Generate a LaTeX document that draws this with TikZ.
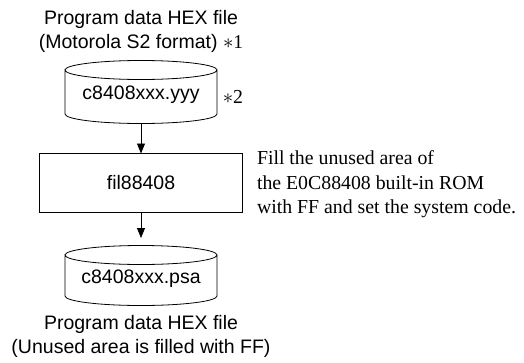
\documentclass[tikz,border=0pt]{standalone}
\usepackage{fontspec}
\setmainfont{Liberation Serif}
\setsansfont{Liberation Sans}
\usetikzlibrary{arrows.meta}
\begin{document}
\begin{tikzpicture}[x=1pt,y=-1pt,
  every node/.style={inner sep=0pt, outer sep=0pt},
  sanstext/.style={font=\sffamily\fontsize{19.5}{25}\selectfont, align=center},
  seriftext/.style={font=\rmfamily\fontsize{19.8}{24.5}\selectfont, align=left},
  conn/.style={line width=0.8pt, -{Triangle[length=10pt,width=8pt]}},
  shapeline/.style={line width=0.8pt}]
\useasboundingbox (0,0) rectangle (524,362);

% titles
\node[sanstext] (t1) at (141,19) {Program data HEX file};
\node[sanstext] (t2) at (141,43) {(Motorola S2 format) {\rmfamily$\ast$1}};

% cylinder 1
\draw[shapeline] (65,70) arc[start angle=180,end angle=540,x radius=76,y radius=9.5]
  -- (65,114) arc[start angle=180,end angle=0,x radius=76,y radius=9.5] -- (217,70);
\coordinate (c1b) at (141,123.5);
\node[sanstext] (c1) at (141,95) {c8408xxx.yyy};
\node[font=\rmfamily\fontsize{19.8}{24.5}\selectfont] (s2) at (233,97) {$\ast$2};

% box
\node[draw, shapeline, minimum width=203pt, minimum height=59pt, sanstext] (box) at (141,183) {fil88408};

% description
\node[seriftext, anchor=west] (desc) at (257,184.5) {Fill the unused area of\\the E0C88408 built-in ROM\\with FF and set the system code.};

% cylinder 2
\draw[shapeline] (65,255) arc[start angle=180,end angle=540,x radius=76,y radius=9.5]
  -- (65,296) arc[start angle=180,end angle=0,x radius=76,y radius=9.5] -- (217,255);
\coordinate (c2tip) at (141,238);
\node[sanstext] (c2) at (141,279) {c8408xxx.psa};

% bottom titles
\node[sanstext] (b1) at (141,324) {Program data HEX file};
\node[sanstext] (b2) at (141,348) {(Unused area is filled with FF)};

% connectors
\draw[conn] (c1b) -- (box.north);
\draw[conn] (box.south) -- (c2tip);
\end{tikzpicture}
\end{document}
